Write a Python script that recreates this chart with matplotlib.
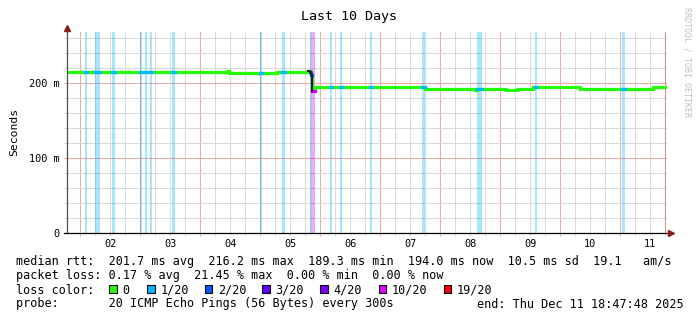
import numpy as np
import matplotlib
matplotlib.use("Agg")
import matplotlib.pyplot as plt
from matplotlib.patches import Rectangle
from matplotlib.ticker import FixedLocator, FixedFormatter

plt.rcParams['font.family'] = ['DejaVu Sans Mono', 'DejaVu Sans']

# time in days of Dec 2025 (2.0 = Thu Dec 02 00:00)
t_end = 11 + (18 + 47 / 60 + 48 / 3600) / 24
t_start = t_end - 10

# median rtt in ms, step breakpoints
med_t = [t_start, 4.45, 4.483, 4.917, 5.033, 5.283, 5.80, 5.833, 5.85, 5.867,
         5.917, 7.75, 8.583, 8.617, 9.10, 9.283, 9.55, 10.333, 11.55]
med_v = [215.0, 216.5, 213.3, 212.8, 213.7, 215.0, 216.5, 214.5, 210.5, 189.3,
         194.2, 192.4, 190.7, 192.4, 190.7, 192.4, 195.0, 192.4, 194.2]

# packet loss periods (start, end, lost pings out of 20)
loss_t0 = [2.083, 2.25, 2.533, 3.0, 3.083, 3.167, 3.533, 5.0, 5.367, 5.833,
           5.867, 6.167, 6.333, 6.833, 7.70, 8.617, 9.583, 11.033]
loss_t1 = [2.117, 2.333, 2.583, 3.025, 3.117, 3.2, 3.583, 5.025, 5.417, 5.867,
           5.917, 6.2, 6.367, 6.867, 7.75, 8.70, 9.617, 11.083]
loss_n = [1, 1, 1, 1, 1, 1, 1, 1, 1, 2, 10, 1, 1, 1, 1, 1, 1, 1]

# a bit of grey smoke around the median
smoke_t0 = [2.0, 2.2, 2.667, 2.78, 4.95, 7.0]
smoke_t1 = [2.05, 2.233, 2.7, 2.83, 5.033, 7.1]
smoke_lo = [215.0, 215.0, 215.0, 215.0, 210.0, 194.0]
smoke_hi = [218.0, 218.0, 218.0, 218.0, 213.0, 195.5]

loss_levels = [0, 1, 2, 3, 4, 10, 19]
loss_colors = ['#26ff00', '#00b8ff', '#0059ff', '#5e00ff', '#7e00ff', '#dd00ff', '#ff0000']
color_of = dict(zip(loss_levels, loss_colors))

rtt_vals = [201.7, 216.2, 189.3, 194.0, 10.5]
rtt_names = ['avg', 'max', 'min', 'now', 'sd']
am_s = 19.1
loss_vals = [0.17, 21.45, 0.00, 0.00]
loss_names = ['avg', 'max', 'min', 'now']
probe_txt = '20 ICMP Echo Pings (56 Bytes) every 300s'
end_txt = 'end: Thu Dec 11 18:47:48 2025'

W, H = 697, 321
fig = plt.figure(figsize=(W / 100, H / 100), dpi=100)
ax = fig.add_axes([67 / W, (H - 233) / H, 600 / W, 201 / H])
ax.set_xlim(t_start, t_end)
ax.set_ylim(0, 268)

GRID = '#dadada'
MGRID = '#eca9a9'

# grid / ticks
six_h = np.arange(np.ceil(t_start * 4) / 4, t_end, 0.25)
days = [t for t in six_h if t == int(t)]
minors = [t for t in six_h if t != int(t)]
minor_lbl = ['%02d' % int(t) if abs(t - int(t) - 0.5) < 1e-9 else '' for t in minors]
ax.xaxis.set_major_locator(FixedLocator(days))
ax.xaxis.set_major_formatter(FixedFormatter([''] * len(days)))
ax.xaxis.set_minor_locator(FixedLocator(minors))
ax.xaxis.set_minor_formatter(FixedFormatter(minor_lbl))

ax.yaxis.set_major_locator(FixedLocator([0, 100, 200]))
ax.yaxis.set_major_formatter(FixedFormatter(['0', '100 m', '200 m']))
ax.yaxis.set_minor_locator(FixedLocator([v for v in range(20, 268, 20) if v % 100]))

ax.set_axisbelow(True)
ax.grid(which='minor', color=GRID, lw=0.75)
ax.grid(which='major', color=MGRID, lw=0.75)
ax.tick_params(which='both', direction='out', length=2.2, width=0.75,
               labelsize=7.4, pad=2)
ax.tick_params(which='major', color=MGRID)
ax.tick_params(which='minor', color=GRID)
ax.tick_params(axis='y', pad=3)
# last 6h line on the right is drawn red in the original
ax.axvline(six_h[-1], color='#d88c8c', lw=0.75, zorder=0.6)

for s in ax.spines.values():
    s.set_visible(False)

# loss bars
for a, b, n in zip(loss_t0, loss_t1, loss_n):
    ax.axvspan(a, b, color=color_of[n], alpha=0.35, lw=0, zorder=1)

# smoke
for a, b, lo, hi in zip(smoke_t0, smoke_t1, smoke_lo, smoke_hi):
    ax.fill_between([a, b], lo, hi, color='#cfcfcf', lw=0, zorder=2)


def med_at(t):
    i = np.searchsorted(med_t, t, side='right') - 1
    return med_v[max(i, 0)]


xs = med_t + [t_end]
ys = med_v + [med_v[-1]]
ax.plot(xs, ys, drawstyle='steps-post', color=color_of[0], lw=2.3,
        solid_joinstyle='miter', zorder=3)

# line coloured by loss during the loss periods (no jump at the end)
for a, b, n in zip(loss_t0, loss_t1, loss_n):
    seg_t = [a] + [t for t in med_t if a < t < b] + [b]
    seg_v = [med_at(t) for t in seg_t[:-1]]
    seg_v.append(seg_v[-1])
    ax.plot(seg_t, seg_v, drawstyle='steps-post', color=color_of[n], lw=2.3, zorder=4)

# dark drop between the two levels
drop = [t for t in med_t if 5.79 < t < 5.87]
ax.plot(drop, [med_at(t) for t in drop], drawstyle='steps-post',
        color='#1c1c30', lw=1.5, zorder=5)

# axes lines with arrows
ax.plot([0, 0], [0, 1.01], transform=ax.transAxes, color='#505050', lw=0.9,
        clip_on=False, zorder=6)
ax.plot([-0.005, 1.006], [0, 0], transform=ax.transAxes, color='black', lw=0.9,
        clip_on=False, zorder=6)
ax.plot([0], [1.018], marker='^', ms=4, color='#8b1a1a', transform=ax.transAxes,
        clip_on=False, zorder=7)
ax.plot([1.007], [0], marker='>', ms=4, color='#8b1a1a', transform=ax.transAxes,
        clip_on=False, zorder=7)


def ftext(x, y, s, **kw):
    fig.text(x / W, 1 - y / H, s, **kw)


ftext(349, 20, 'Last 10 Days', ha='center', va='baseline', fontsize=9.6)
ftext(14, 132, 'Seconds', rotation=90, ha='center', va='center', fontsize=8.2)
ftext(687, 62, 'RRDTOOL / TOBI OETIKER', rotation=270, ha='center', va='center',
      fontsize=6, color='#c0c0c0')

LF = 8.45
row_y = [265.5, 279.5, 293.5, 307.5]

# row 1: median rtt
line1 = 'median rtt:  ' + '  '.join('%.1f ms %s' % (v, n) for v, n in zip(rtt_vals, rtt_names))
line1 += '  %.1f   am/s' % am_s
ftext(16, row_y[0], line1, fontsize=LF, va='baseline')

# row 2: packet loss
line2 = 'packet loss: ' + '  '.join('%.2f %% %s' % (v, n) for v, n in zip(loss_vals, loss_names))
ftext(16, row_y[1], line2, fontsize=LF, va='baseline')

# row 3: loss colours
ftext(16, row_y[2], 'loss color:', fontsize=LF, va='baseline')
box_x = [109, 147, 204.5, 262, 320, 378.5, 443.5]
for x, n, c in zip(box_x, loss_levels, loss_colors):
    fig.add_artist(Rectangle((x / W, 1 - 293 / H), 7.5 / W, 8 / H,
                             transform=fig.transFigure, facecolor=c,
                             edgecolor='black', lw=0.8))
    ftext(x + 13.5, row_y[2], '0' if n == 0 else '%d/20' % n, fontsize=LF,
          va='baseline')

# row 4: probe
ftext(16, row_y[3], 'probe:       ' + probe_txt, fontsize=LF, va='baseline')
ftext(477, row_y[3], end_txt, fontsize=LF, va='baseline')

fig.savefig('out.png', dpi=100)
